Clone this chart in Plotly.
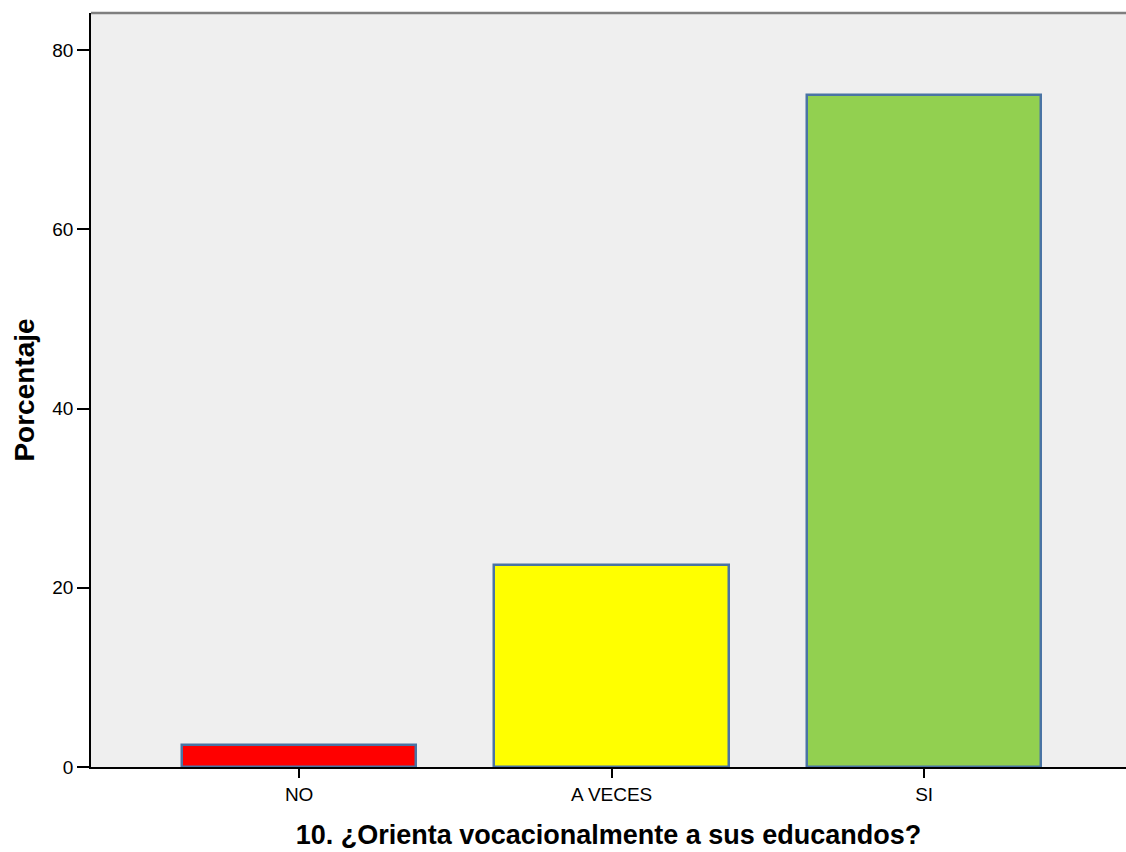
import plotly.graph_objects as go

categories = ["NO", "A VECES", "SI"]
percentages = [2.5, 22.5, 75.0]
bar_colors = ["#ff0000", "#ffff00", "#92d050"]
y_ticks = [0, 20, 40, 60, 80]

x_title = "10. ¿Orienta vocacionalmente a sus educandos?"
y_title = "Porcentaje"

fig = go.Figure()
fig.add_trace(go.Bar(
    x=categories,
    y=percentages,
    width=0.75,
    marker=dict(color=bar_colors, line=dict(color="#4a74a4", width=2.5)),
    showlegend=False,
    hoverinfo="x+y",
))

fig.update_layout(
    width=1126,
    height=852,
    margin=dict(l=91, r=0, t=13, b=85),
    paper_bgcolor="white",
    plot_bgcolor="#efefef",
    font=dict(family="Liberation Sans, Arial, sans-serif", color="black"),
    bargap=0,
    shapes=[dict(type="line", xref="paper", yref="paper", x0=0, x1=1, y0=1, y1=1,
                 line=dict(color="#7f7f7f", width=2.5))],
)

fig.update_xaxes(
    type="category",
    range=[-0.666, 2.646],
    showline=True, linecolor="black", linewidth=1.5,
    ticks="outside", ticklen=9, tickwidth=1.5, tickcolor="black",
    tickfont=dict(size=19, family="Liberation Sans, Arial, sans-serif"),
    showgrid=False, zeroline=False,
    title=dict(text="<b>" + x_title + "</b>", font=dict(size=27), standoff=22),
)
fig.update_yaxes(
    range=[0, 84.15],
    tickvals=y_ticks,
    showline=True, linecolor="black", linewidth=1.5,
    ticks="outside", ticklen=12, tickwidth=1.5, tickcolor="black",
    tickfont=dict(size=19, family="Liberation Sans, Arial, sans-serif"),
    showgrid=False, zeroline=False,
    title=dict(text="<b>" + y_title + "</b>", font=dict(size=28), standoff=10),
)

fig.write_html(
    "out.html",
    config={"displayModeBar": False},
    post_script="document.body.style.margin='0';document.body.style.overflow='hidden';",
)
